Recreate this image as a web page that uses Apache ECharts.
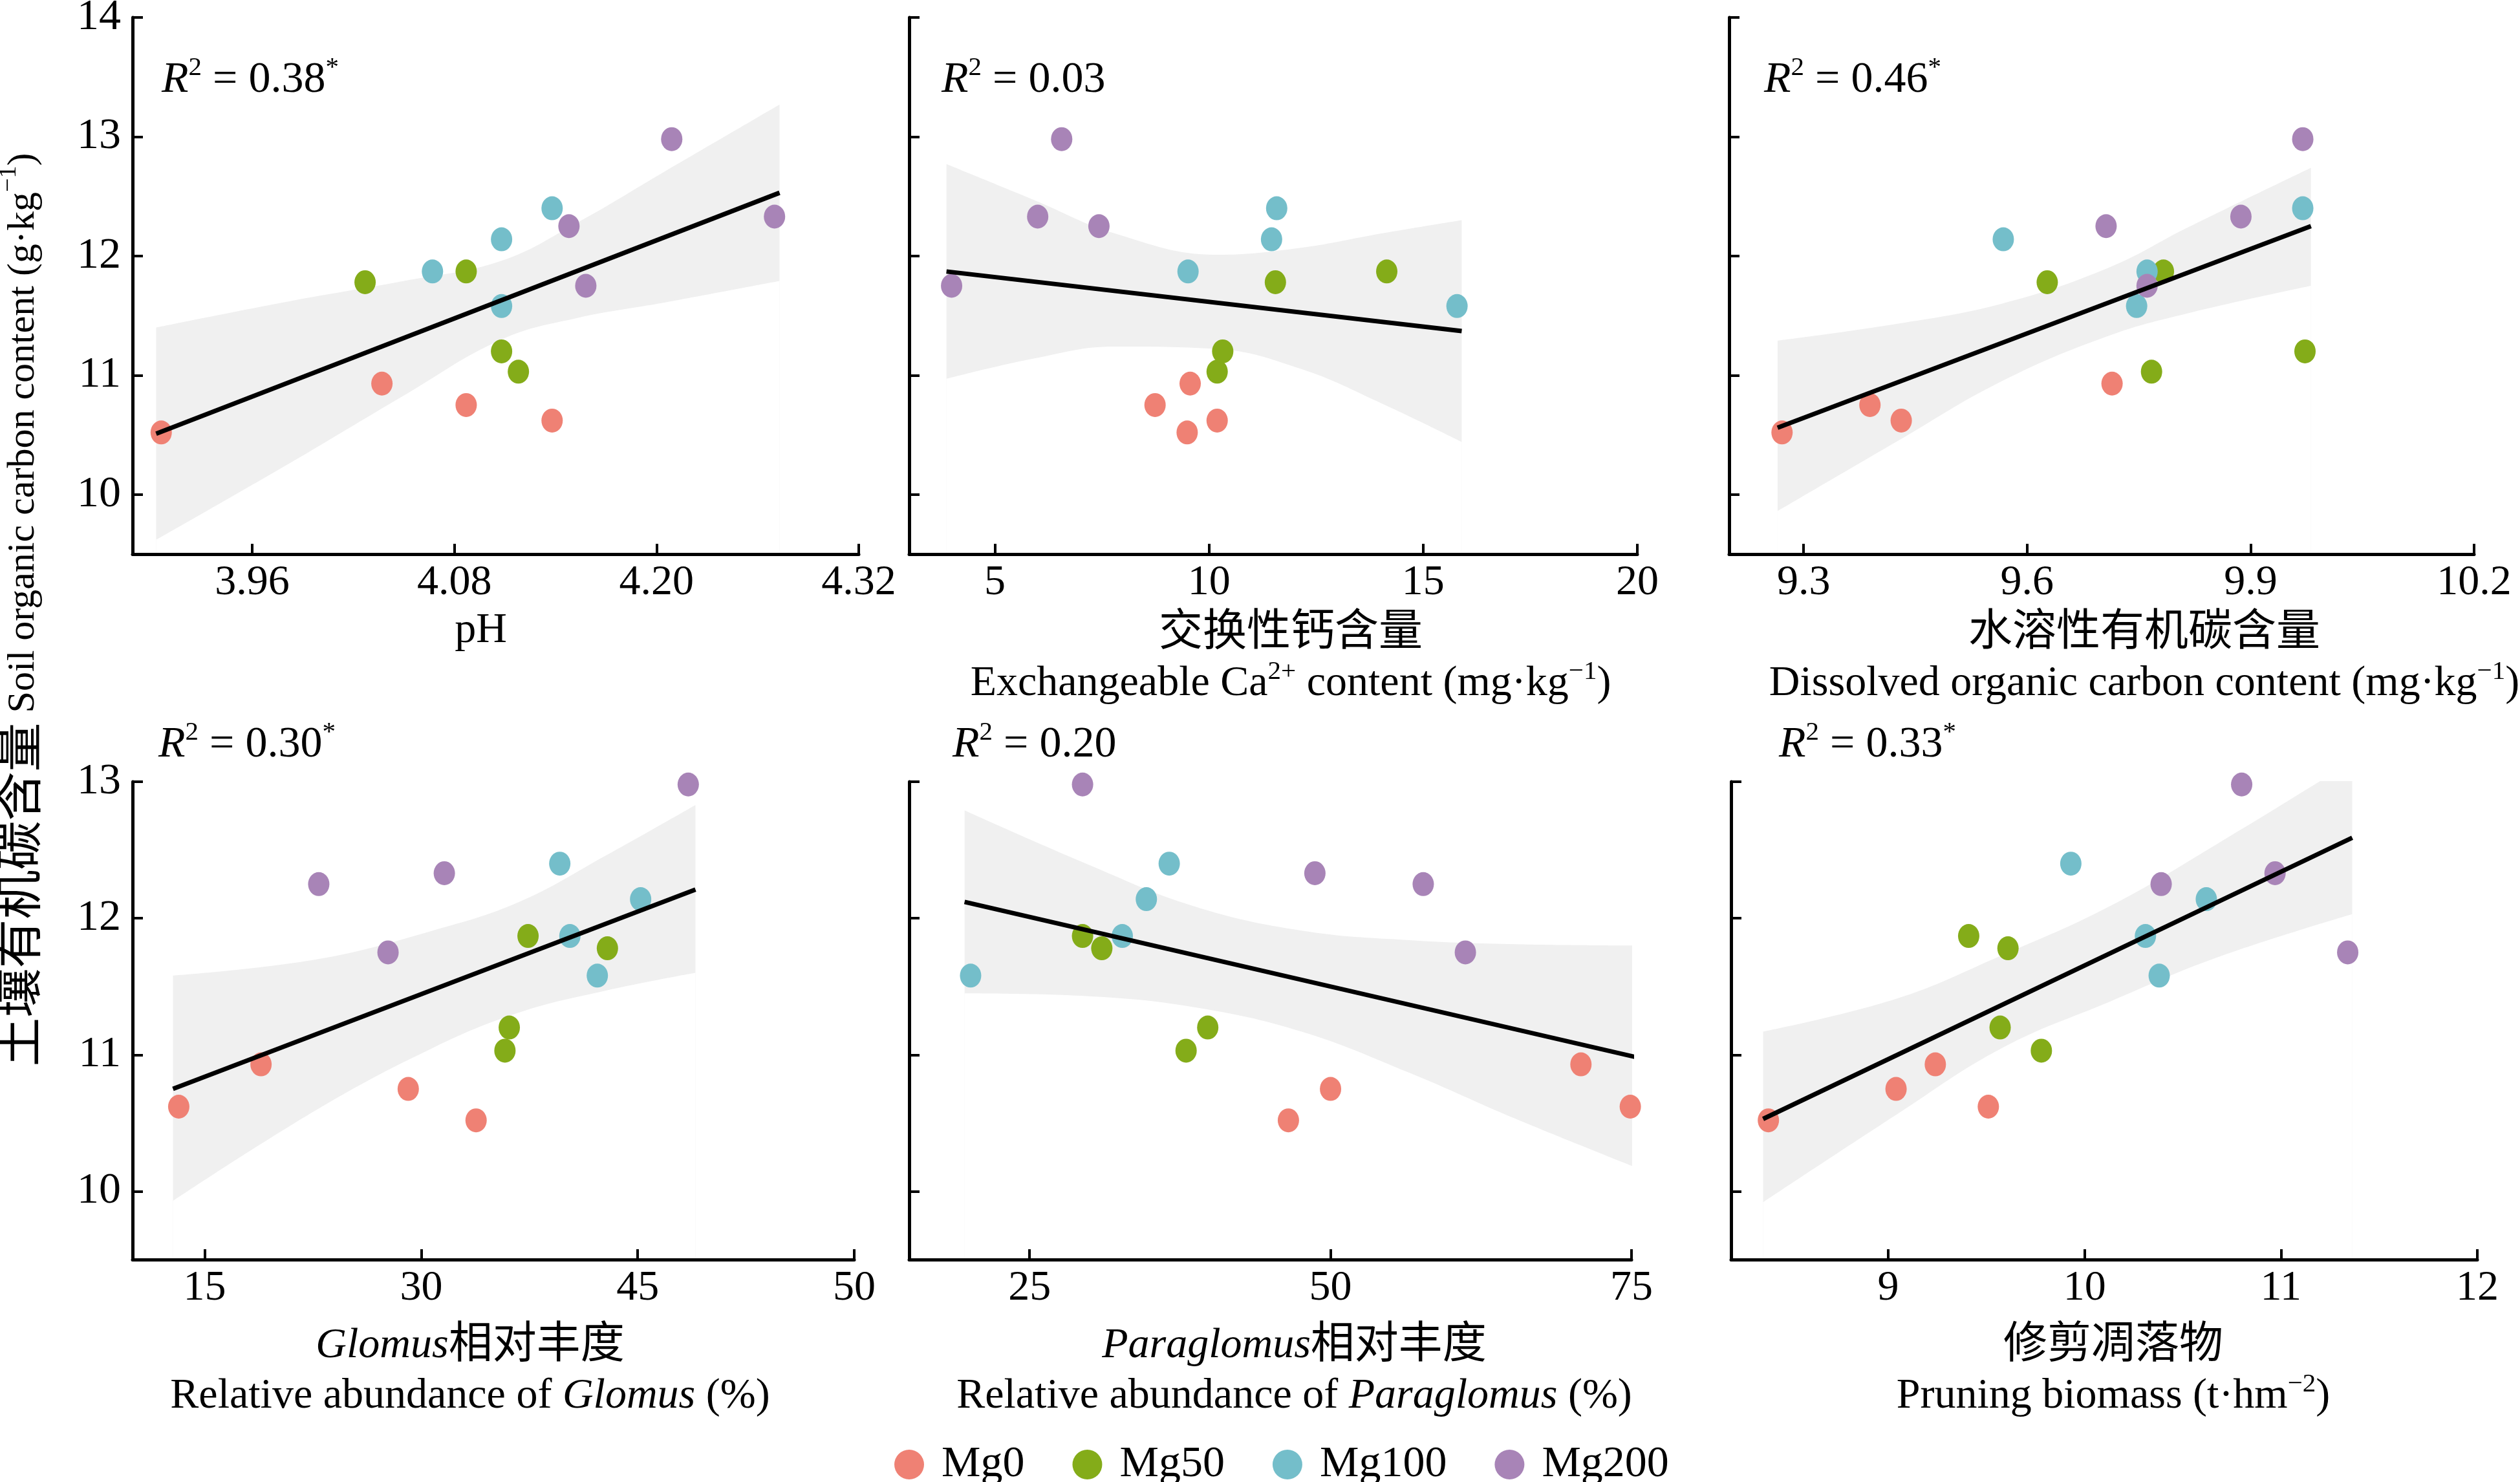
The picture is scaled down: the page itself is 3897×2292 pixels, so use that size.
<!DOCTYPE html>
<html>
<head>
<meta charset="utf-8">
<title>SOC scatter panels</title>
<script src="https://cdn.jsdelivr.net/npm/echarts@6/dist/echarts.min.js"></script>
<style>
  html, body { margin: 0; padding: 0; background: #fff; }
  #main { width: 3897px; height: 2292px; }
</style>
</head>
<body>
<div id="main"></div>
<script>
// 处理组
var groups = ['Mg0', 'Mg50', 'Mg100', 'Mg200'];
var colors = ['#EF8174', '#84AC19', '#74BECA', '#A884B7'];

// 土壤有机碳含量 (每组4个样点)
var socMg0 = [10.52, 10.62, 10.75, 10.93];
var socMg50 = [11.03, 11.20, 11.78, 11.87];
var socMg100 = [11.58, 11.87, 12.14, 12.40];
var socMg200 = [11.75, 12.25, 12.33, 12.98];

// 各面板横坐标 (顺序与上面 soc 对应)
var phX = [[3.906, 4.138, 4.087, 4.037], [4.118, 4.108, 4.027, 4.087], [4.108, 4.067, 4.108, 4.138], [4.158, 4.148, 4.270, 4.209]];
var caX = [[9.49, 10.19, 8.74, 9.56], [10.19, 10.32, 11.55, 14.15], [15.79, 9.51, 11.46, 11.58], [3.99, 7.43, 6.00, 6.56]];
var docX = [[9.271, 9.431, 9.389, 9.714], [9.767, 9.973, 9.627, 9.783], [9.747, 9.761, 9.568, 9.970], [9.761, 9.706, 9.887, 9.970]];
var glomX = [[33.8, 13.2, 29.1, 18.9], [35.8, 36.1, 42.9, 37.4], [42.2, 40.3, 45.2, 39.6], [27.7, 22.9, 31.6, 48.5]];
var paraX = [[46.5, 74.9, 50.0, 70.8], [38.0, 39.8, 31.0, 29.4], [20.1, 32.7, 34.7, 36.6], [61.2, 57.7, 48.7, 29.4]];
var pruneX = [[8.39, 9.51, 9.04, 9.24], [9.78, 9.57, 9.61, 9.41], [10.38, 10.31, 10.62, 9.93], [11.34, 10.39, 10.97, 10.80]];

// 拟合线端点
var phFit = [[3.903, 10.51], [4.273, 12.53]];
var caFit = [[3.87, 11.87], [15.90, 11.37]];
var docFit = [[9.265, 10.56], [9.981, 12.25]];
var glomFit = [[12.8, 10.75], [49.0, 12.21]];
var paraFit = [[19.6, 12.12], [75.5, 10.98]];
var pruneFit = [[8.363, 10.53], [11.363, 12.59]];

// 置信带 (x, 下界, 上界)
var phBandX = [3.903, 3.982, 4.05, 4.108, 4.153, 4.205, 4.273];
var phBandLo = [9.62, 10.26, 10.83, 11.30, 11.48, 11.61, 11.79];
var phBandHi = [11.40, 11.62, 11.79, 11.96, 12.28, 12.71, 13.27];
var caBandX = [3.87, 5.91, 7.79, 10.17, 12.17, 14.05, 15.90];
var caBandLo = [10.97, 11.14, 11.24, 11.22, 11.05, 10.76, 10.44];
var caBandHi = [12.77, 12.47, 12.19, 12.01, 12.07, 12.19, 12.30];
var docBandX = [9.265, 9.424, 9.566, 9.709, 9.816, 9.981];
var docBandLo = [9.86, 10.44, 10.95, 11.33, 11.52, 11.75];
var docBandHi = [11.29, 11.43, 11.60, 11.90, 12.24, 12.74];
var glomBandX = [12.8, 22.8, 30.8, 36.8, 42.8, 49.0];
var glomBandLo = [9.93, 10.60, 11.05, 11.31, 11.47, 11.60];
var glomBandHi = [11.58, 11.70, 11.91, 12.12, 12.46, 12.83];
var paraBandX = [19.6, 29.7, 38.6, 47.6, 56.5, 65.4, 75.5];
var paraBandLo = [11.45, 11.43, 11.35, 11.17, 10.87, 10.53, 10.17];
var paraBandHi = [12.79, 12.40, 12.09, 11.91, 11.84, 11.81, 11.80];
var pruneBandX = [8.363, 9.04, 9.58, 10.13, 10.67, 11.363];
var pruneBandLo = [9.92, 10.56, 11.05, 11.39, 11.71, 12.03];
var pruneBandHi = [11.17, 11.41, 11.73, 12.09, 12.54, 13.15];

// 刻度
var phTicks = [3.96, 4.08, 4.20, 4.32];
var phLabels = ['3.96', '4.08', '4.20', '4.32'];
var caTicks = [5, 10, 15, 20];
var caLabels = ['5', '10', '15', '20'];
var docTicks = [9.3, 9.6, 9.9, 10.2];
var docLabels = ['9.3', '9.6', '9.9', '10.2'];
var glomTicks = [15, 30, 45, 60];
var glomLabels = ['15', '30', '45', '50'];
var paraTicks = [25, 50, 75];
var paraLabels = ['25', '50', '75'];
var pruneTicks = [9, 10, 11, 12];
var pruneLabels = ['9', '10', '11', '12'];
var socTicksTop = [10, 11, 12, 13, 14];
var socTicksBottom = [10, 11, 12, 13];

var r2Texts = ['0.38', '0.03', '0.46', '0.30', '0.20', '0.33'];
var r2Star = [true, false, true, true, false, true];

var FONT = '"Liberation Serif", "Noto Sans CJK SC", serif';
var socAll = [socMg0, socMg50, socMg100, socMg200];

var rich = {
    n: { fontFamily: FONT, fontSize: 66, color: '#000', lineHeight: 78 },
    i: { fontFamily: FONT, fontSize: 66, fontStyle: 'italic', color: '#000', lineHeight: 78 },
    c: { fontFamily: FONT, fontSize: 68, color: '#000', lineHeight: 78 },
    sup: { fontFamily: FONT, fontSize: 41, color: '#000', lineHeight: 62, verticalAlign: 'top' }
};

var panels = [
    { xs: phX, fit: phFit, bx: phBandX, lo: phBandLo, hi: phBandHi, ticks: phTicks, labels: phLabels, min: 3.889, max: 4.32,
      grid: { left: 205, top: 27, width: 1123, height: 830 }, yTicks: socTicksTop, yMax: 14, showY: true,
      name: '{n|pH}', gap: 80, shift: -23 },
    { xs: caX, fit: caFit, bx: caBandX, lo: caBandLo, hi: caBandHi, ticks: caTicks, labels: caLabels, min: 3, max: 20,
      grid: { left: 1406, top: 27, width: 1126, height: 830 }, yTicks: socTicksTop, yMax: 14, showY: false,
      name: '{c|交换性钙含量}\n{n|Exchangeable Ca}{sup|2+}{n| content (mg·kg}{sup|−1}{n|)}', gap: 84, shift: 27 },
    { xs: docX, fit: docFit, bx: docBandX, lo: docBandLo, hi: docBandHi, ticks: docTicks, labels: docLabels, min: 9.2, max: 10.2,
      grid: { left: 2674, top: 27, width: 1152, height: 830 }, yTicks: socTicksTop, yMax: 14, showY: false,
      name: '{c|水溶性有机碳含量}\n{n|Dissolved organic carbon content (mg·kg}{sup|−1}{n|)}', gap: 84, shift: 66 },
    { xs: glomX, fit: glomFit, bx: glomBandX, lo: glomBandLo, hi: glomBandHi, ticks: glomTicks, labels: glomLabels, min: 10, max: 60,
      grid: { left: 205, top: 1209, width: 1116, height: 739 }, yTicks: socTicksBottom, yMax: 13, showY: true,
      name: '{i|Glomus}{c|相对丰度}\n{n|Relative abundance of }{i|Glomus}{n| (%)}', gap: 95, shift: -36 },
    { xs: paraX, fit: paraFit, bx: paraBandX, lo: paraBandLo, hi: paraBandHi, ticks: paraTicks, labels: paraLabels, min: 15, max: 75,
      grid: { left: 1406, top: 1209, width: 1117, height: 739 }, yTicks: socTicksBottom, yMax: 13, showY: false,
      name: '{i|Paraglomus}{c|相对丰度}\n{n|Relative abundance of }{i|Paraglomus}{n| (%)}', gap: 95, shift: 37 },
    { xs: pruneX, fit: pruneFit, bx: pruneBandX, lo: pruneBandLo, hi: pruneBandHi, ticks: pruneTicks, labels: pruneLabels, min: 8.2, max: 12,
      grid: { left: 2677, top: 1209, width: 1154, height: 739 }, yTicks: socTicksBottom, yMax: 13, showY: false,
      name: '{c|修剪凋落物}\n{n|Pruning biomass (t·hm}{sup|−2}{n|)}', gap: 95, shift: 14 }
];

var r2Pos = [[250, 124], [1456, 124], [2728, 124], [245, 1152], [1473, 1152], [2751, 1152]];

function labelFor(ticks, labels) {
    return function (v) {
        for (var k = 0; k < ticks.length; k++) {
            if (Math.abs(ticks[k] - v) < 1e-6) return labels[k];
        }
        return '';
    };
}

var grids = [], xAxes = [], yAxes = [], series = [], graphics = [];
var axisLine = { show: true, onZero: false, lineStyle: { color: '#000', width: 5 } };

panels.forEach(function (p, pi) {
    grids.push({ left: p.grid.left, top: p.grid.top, width: p.grid.width, height: p.grid.height, outerBoundsMode: 'none', containLabel: false });
    // 标题水平偏移用左右 padding 实现
    var pad = p.shift >= 0 ? [0, 0, 0, 2 * p.shift] : [0, -2 * p.shift, 0, 0];
    xAxes.push({
        type: 'value', gridIndex: pi, min: p.min, max: p.max,
        axisLine: axisLine,
        axisTick: { show: true, inside: true, length: 16, customValues: p.ticks, lineStyle: { color: '#000', width: 4 } },
        axisLabel: { customValues: p.ticks, formatter: labelFor(p.ticks, p.labels), fontFamily: FONT, fontSize: 66, color: '#000', margin: 12 },
        splitLine: { show: false },
        name: p.name, nameLocation: 'middle', nameGap: p.gap,
        nameTextStyle: { rich: rich, align: 'center', padding: pad },
        z: 10
    });
    yAxes.push({
        type: 'value', gridIndex: pi, min: 9.5, max: p.yMax,
        axisLine: axisLine,
        axisTick: { show: true, inside: true, length: 16, customValues: p.yTicks, lineStyle: { color: '#000', width: 4 } },
        axisLabel: { show: p.showY, customValues: p.yTicks, fontFamily: FONT, fontSize: 68, color: '#000', margin: 18 },
        splitLine: { show: false },
        z: 10
    });

    // 置信带: 上界灰色填充到底, 下界白色填充覆盖
    series.push({
        type: 'line', xAxisIndex: pi, yAxisIndex: pi, smooth: 0.4,
        symbol: 'none', silent: true, lineStyle: { opacity: 0 }, z: 1,
        areaStyle: { color: '#F0F0F0', opacity: 1, origin: 'start' },
        data: p.bx.map(function (x, i) { return [x, p.hi[i]]; })
    });
    series.push({
        type: 'line', xAxisIndex: pi, yAxisIndex: pi, smooth: 0.4,
        symbol: 'none', silent: true, lineStyle: { opacity: 0 }, z: 1,
        areaStyle: { color: '#FFFFFF', opacity: 1, origin: 'start' },
        data: p.bx.map(function (x, i) { return [x, p.lo[i]]; })
    });

    groups.forEach(function (g, gi) {
        series.push({
            type: 'scatter', name: g, xAxisIndex: pi, yAxisIndex: pi,
            symbol: 'circle', symbolSize: [33, 37], z: 3,
            itemStyle: { color: colors[gi], opacity: 1 },
            data: p.xs[gi].map(function (x, i) { return [x, socAll[gi][i]]; })
        });
    });

    series.push({
        type: 'line', xAxisIndex: pi, yAxisIndex: pi, symbol: 'none', silent: true, z: 5,
        lineStyle: { color: '#000', width: 7 },
        data: p.fit
    });

    graphics.push({
        type: 'text', x: r2Pos[pi][0], y: r2Pos[pi][1],
        style: {
            text: '{ri|R}{sup|2}{n| = ' + r2Texts[pi] + '}' + (r2Star[pi] ? '{sup|*}' : ''),
            rich: {
                ri: { fontFamily: FONT, fontSize: 68, fontStyle: 'italic', fill: '#000', lineHeight: 78 },
                n: { fontFamily: FONT, fontSize: 68, fill: '#000', lineHeight: 78 },
                sup: { fontFamily: FONT, fontSize: 41, fill: '#000', lineHeight: 62, verticalAlign: 'top' }
            },
            align: 'left', verticalAlign: 'middle'
        }
    });
});

graphics.push({
    type: 'text', x: 36, y: 943, rotation: Math.PI / 2,
    style: {
        text: '{c|土壤有机碳含量}{n| Soil organic carbon content (g·kg}{sup|−1}{n|)}',
        rich: {
            c: { fontFamily: FONT, fontSize: 76, fill: '#000', lineHeight: 82 },
            n: { fontFamily: FONT, fontSize: 60, fill: '#000', lineHeight: 82 },
            sup: { fontFamily: FONT, fontSize: 38, fill: '#000', lineHeight: 70, verticalAlign: 'top' }
        },
        align: 'center', verticalAlign: 'middle'
    }
});

var myChart = echarts.init(document.getElementById('main'));
var option = {
    backgroundColor: '#fff',
    animation: false,
    grid: grids,
    xAxis: xAxes,
    yAxis: yAxes,
    legend: {
        data: groups.map(function (g) { return { name: g, icon: 'circle' }; }),
        left: 1378, top: 2226,
        itemWidth: 46, itemHeight: 46, itemGap: 74,
        textStyle: { fontFamily: FONT, fontSize: 68, color: '#000', padding: [0, 0, 0, 22] }
    },
    graphic: graphics,
    series: series
};
myChart.setOption(option);
</script>
</body>
</html>
